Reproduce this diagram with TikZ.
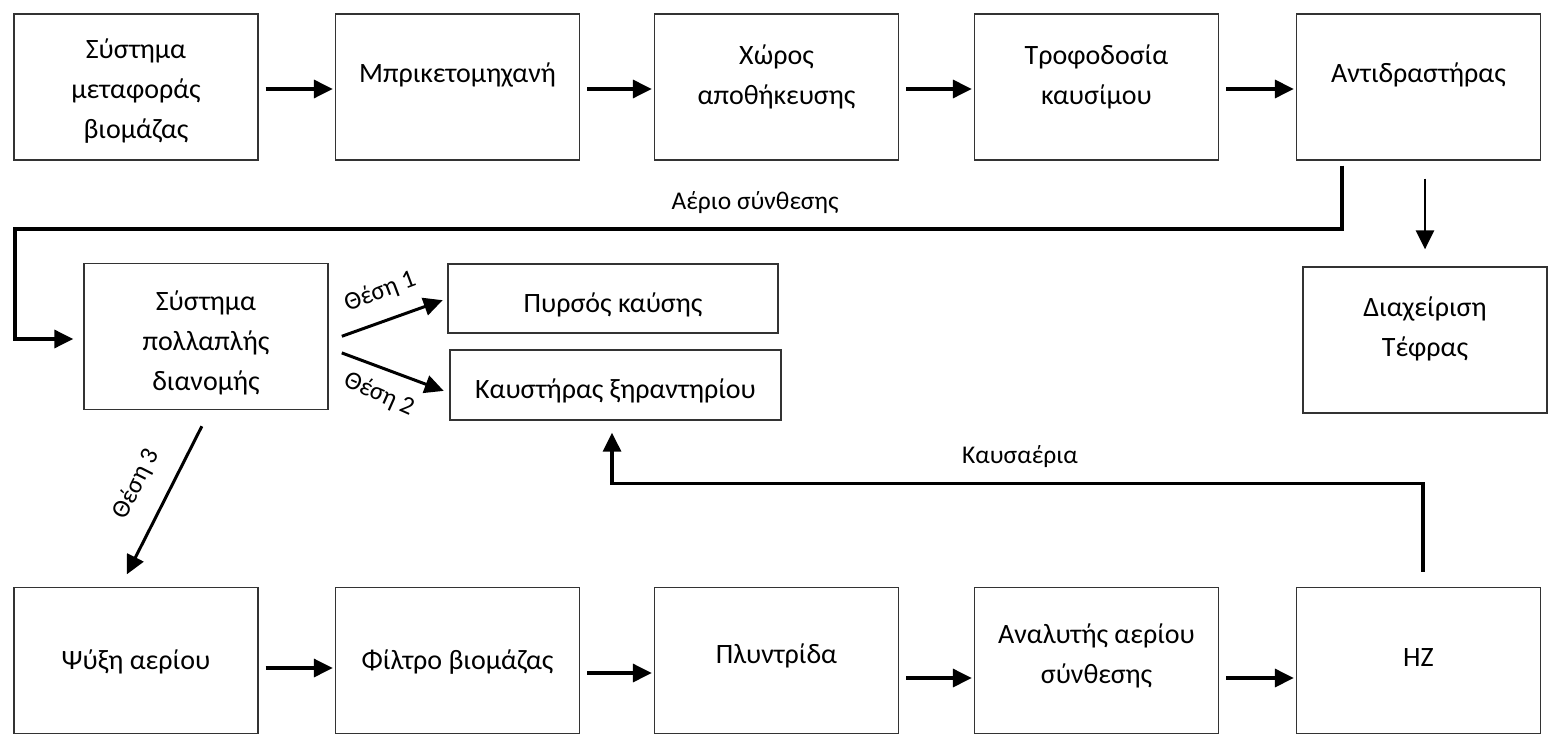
\documentclass[tikz,border=0pt]{standalone}
\usepackage{fontspec}
\setmainfont{Carlito}
\usetikzlibrary{arrows.meta}
\newcommand{\bxt}[2][0pt]{\raisebox{#1}[0pt][0pt]{\begin{tabular}{@{}c@{}}#2\end{tabular}}}
\tikzset{
  blk/.style  = {draw=black!80, line width=1.3pt, inner sep=0pt,
                 minimum width=244pt, minimum height=146pt,
                 font=\fontsize{28}{40}\selectfont},
  wide/.style = {blk, minimum width=331pt, minimum height=70pt},
  ar/.style   = {-{Triangle[length=19pt,width=18pt]}, line width=3.2pt},
  lbl/.style  = {font=\fontsize{25.5}{30}\selectfont, inner sep=0pt},
}
\begin{document}
\begin{tikzpicture}[x=1pt,y=-1pt]
  \useasboundingbox (0,0) rectangle (1550,735);

  % --- upper row ---
  \node[blk] (trans) at (136,87)    {\bxt[-10pt]{Σύστημα\\μεταφοράς\\βιομάζας}};
  \node[blk] (brik)  at (457.5,87)  {\bxt[6pt]{Μπρικετομηχανή}};
  \node[blk] (store) at (776.5,87)  {\bxt[4pt]{Χώρος\\αποθήκευσης}};
  \node[blk] (feed)  at (1096.5,87) {\bxt[4pt]{Τροφοδοσία\\καυσίμου}};
  \node[blk] (react) at (1418.5,87) {\bxt[6pt]{Αντιδραστήρας}};

  % --- middle row ---
  \node[blk] (multi) at (206,336.5) {\bxt[-12pt]{Σύστημα\\πολλαπλής\\διανομής}};
  \node[wide, minimum width=330pt, minimum height=69pt] (torch) at (613,298.5)
       {\bxt[-12pt]{Πυρσός καύσης}};
  \node[wide] (burn) at (615.5,385) {\bxt[-12pt]{Καυστήρας ξηραντηρίου}};
  \node[blk] (ash) at (1425,340) {\bxt[5pt]{Διαχείριση\\Τέφρας}};

  % --- lower row ---
  \node[blk] (cool)  at (136,660.5)    {\bxt[-7pt]{Ψύξη αερίου}};
  \node[blk] (filt)  at (457.5,660.5)  {\bxt[-7pt]{Φίλτρο βιομάζας}};
  \node[blk] (scrub) at (776.5,660.5)  {\bxt[-1pt]{Πλυντρίδα}};
  \node[blk] (anal)  at (1096.5,660.5) {\bxt[-1pt]{Αναλυτής αερίου\\σύνθεσης}};
  \node[blk] (hz)    at (1418.5,660.5) {\bxt[-4pt]{HZ}};

  % --- straight flow ---
  \foreach \a/\b in {trans/brik, brik/store, store/feed, feed/react}
    \draw[ar, shorten <=7pt, shorten >=2pt]
      ([yshift=-2pt]\a.east) -- ([yshift=-2pt]\b.west);
  \foreach \a/\b/\s in {cool/filt/-7.5, filt/scrub/-12.5, scrub/anal/-17.5, anal/hz/-17.5}
    \draw[ar, shorten <=7pt, shorten >=2pt]
      ([yshift=\s pt]\a.east) -- ([yshift=\s pt]\b.west);

  % --- syngas loop ---
  \coordinate (sg) at (15,229);
  \draw[ar, shorten >=10pt] ([xshift=-76.5pt,yshift=-5pt]react.south) |- (sg) |- ([yshift=-2.5pt]multi.west);
  \node[lbl, anchor=base] (sglbl) at (755,210) {Αέριο σύνθεσης};

  \draw[ar, line width=2.6pt, shorten <=18pt, shorten >=17pt]
    (react.south -| ash.north) -- (ash.north);

  % --- distribution ---
  \draw[ar, line width=3pt, shorten <=14pt, shorten >=5pt]
    ([yshift=-4.5pt]multi.east) -- (torch.west);
  \draw[ar, line width=3pt, shorten <=14pt, shorten >=6pt]
    ([yshift=-11.5pt]multi.east) -- ([yshift=-8pt]burn.west);
  \draw[ar, line width=3pt, shorten <=18pt, shorten >=14pt]
    ([xshift=4pt]multi.south) -- ([xshift=-15.5pt]cool.north);
  \node[lbl, rotate=20.6] (pos1) at (380,292) {Θέση 1};
  \node[lbl, rotate=-24]  (pos2) at (379,394) {Θέση 2};
  \node[lbl, rotate=63]   (pos3) at (136,484) {Θέση 3};

  % --- flue gas back to the burner ---
  \coordinate (fl) at ([xshift=-3.5pt,yshift=-63pt]burn.south);
  \draw[ar, shorten <=15pt, shorten >=12pt]
    ([xshift=4.5pt]hz.north) |- (fl) -- ([xshift=-3.5pt]burn.south);
  \node[lbl, anchor=base] (fllbl) at (1020,463) {Καυσαέρια};
\end{tikzpicture}
\end{document}
